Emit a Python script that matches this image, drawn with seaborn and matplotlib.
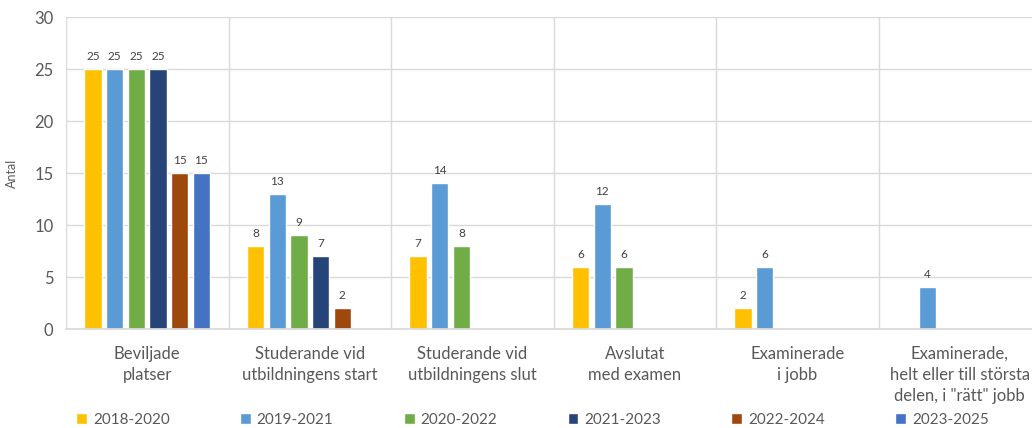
import numpy as np
import pandas as pd
import matplotlib
matplotlib.use("Agg")
import matplotlib.pyplot as plt
from matplotlib.patches import Patch
import seaborn as sns

categories = [
    "Beviljade\nplatser",
    "Studerande vid\nutbildningens start",
    "Studerande vid\nutbildningens slut",
    "Avslutat\nmed examen",
    "Examinerade\ni jobb",
    "Examinerade,\nhelt eller till största\ndelen, i \"rätt\" jobb",
]
periods = ["2018-2020", "2019-2021", "2020-2022", "2021-2023", "2022-2024", "2023-2025"]
colors = ["#FFC000", "#5B9BD5", "#70AD47", "#264478", "#9E480E", "#4472C4"]

nan = np.nan
v_2018 = [25, 8, 7, 6, 2, nan]
v_2019 = [25, 13, 14, 12, 6, 4]
v_2020 = [25, 9, 8, 6, nan, nan]
v_2021 = [25, 7, nan, nan, nan, nan]
v_2022 = [15, 2, nan, nan, nan, nan]
v_2023 = [15, nan, nan, nan, nan, nan]

series = [v_2018, v_2019, v_2020, v_2021, v_2022, v_2023]
rows = []
for p, vals in zip(periods, series):
    for c, v in zip(categories, vals):
        rows.append({"kategori": c, "period": p, "antal": v})
df = pd.DataFrame(rows).dropna()

sns.set_theme(style="white")
plt.rcParams["font.family"] = ["Lato", "DejaVu Sans"]
txt = "#595959"
grid = "#D9D9D9"

fig = plt.figure(figsize=(10.32, 4.28), dpi=100)
ax = fig.add_axes([66 / 1032, 1 - 329 / 428, 975 / 1032, 312 / 428])

sns.barplot(data=df, x="kategori", y="antal", hue="period",
            order=categories, hue_order=periods, palette=colors,
            width=0.8, gap=0.2, saturation=1, ax=ax, legend=False)

for cont in ax.containers:
    ax.bar_label(cont, fmt="%g", padding=5, fontsize=8.5, color="#404040")

ax.set_ylim(0, 30)
ax.set_yticks(range(0, 31, 5))
ax.set_xlim(-0.5, len(categories) - 0.5)
ax.set_xticks(range(len(categories)))
ax.set_xticklabels(categories, fontsize=12, color=txt, linespacing=1.4)
ax.set_xticks(np.arange(-0.5, len(categories), 1), minor=True)
ax.tick_params(axis="x", which="major", length=0, pad=12)
ax.tick_params(axis="x", which="minor", length=5, color=grid, width=1)
ax.tick_params(axis="y", labelsize=12, labelcolor=txt, length=0, pad=9)

ax.grid(axis="y", color=grid, lw=1)
ax.grid(axis="x", which="minor", color=grid, lw=1)
ax.set_axisbelow(True)
for s in ["top", "right", "left"]:
    ax.spines[s].set_visible(False)
ax.spines["bottom"].set_color(grid)

ax.set_xlabel("")
ax.set_ylabel("Antal", fontsize=9, color=txt, labelpad=12)

handles = [Patch(facecolor=c, label=p) for c, p in zip(colors, periods)]
fig.legend(handles=handles, loc="center", ncol=6, bbox_to_anchor=(0.516, 1 - 420 / 428),
           frameon=False, fontsize=11, labelcolor=txt, handlelength=0.7, handleheight=0.7,
           handletextpad=0.4, columnspacing=4.6, borderpad=0)

fig.savefig("out.png", dpi=100)
